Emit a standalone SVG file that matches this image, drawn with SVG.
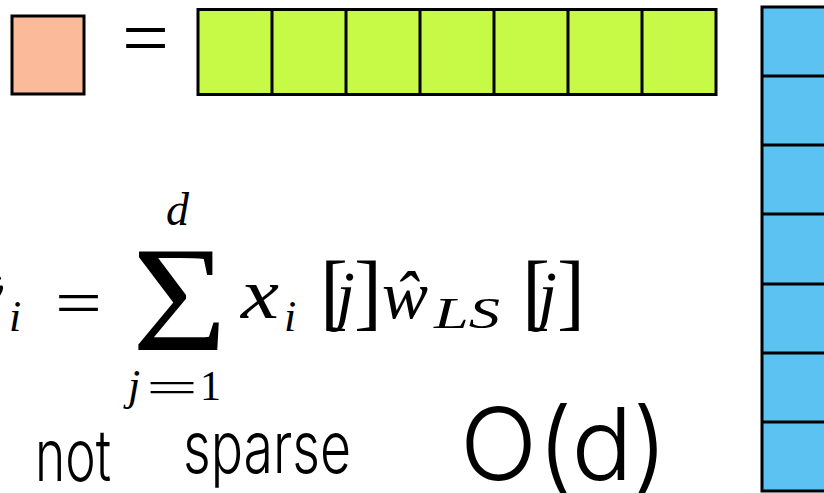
<svg xmlns="http://www.w3.org/2000/svg" width="824" height="493" viewBox="0 0 824 493">
<style>
.cell{stroke:#000;stroke-width:3}
.div{stroke:#000;stroke-width:3;fill:none}
.m{font-family:"Liberation Serif","DejaVu Serif",serif;fill:#000}
.it{font-style:italic}
.hand{font-family:Inter,"Liberation Sans",sans-serif;font-weight:300;fill:#000}
</style>
<rect width="824" height="493" fill="#fff"/>
<g id="lhs-cell">
<rect class="cell" x="12" y="16" width="72" height="78" fill="#FBBB9A"/>
</g>
<g id="equals-top">
<text class="m" x="122" y="65" font-size="80" textLength="47" lengthAdjust="spacingAndGlyphs">=</text>
</g>
<g id="row-vector">
<rect class="cell" x="198" y="9.5" width="518" height="85" fill="#C6FA47"/>
<path class="div" d="M272 9.5V94.5M346 9.5V94.5M420 9.5V94.5M494 9.5V94.5M568 9.5V94.5M642 9.5V94.5"/>
</g>
<g id="column-vector">
<rect class="cell" x="762" y="7" width="70" height="484" fill="#5BC2F1"/>
<path class="div" d="M762 76H832M762 145H832M762 214H832M762 284H832M762 353H832M762 422H832"/>
</g>
<g id="formula">
<text class="m it" x="-28" y="318" font-size="70">ŷ</text>
<text class="m it" x="9" y="331" font-size="44">i</text>
<text class="m" x="55" y="324" font-size="64" textLength="47" lengthAdjust="spacingAndGlyphs">=</text>
<text class="m it" x="166" y="225" font-size="46">d</text>
<text class="m" x="132" y="350" font-size="150" textLength="95" lengthAdjust="spacingAndGlyphs">Σ</text>
<text class="m it" x="128" y="400" font-size="44">j</text>
<text class="m" x="146" y="402" font-size="44" textLength="52" lengthAdjust="spacingAndGlyphs">=</text>
<text class="m" x="200" y="400" font-size="42">1</text>
<text class="m it" x="241" y="318" font-size="72" textLength="38" lengthAdjust="spacingAndGlyphs">x</text>
<text class="m it" x="284" y="331" font-size="44">i</text>
<text class="m" x="320" y="320" font-size="84">[</text>
<text class="m it" x="336" y="318" font-size="68">j</text>
<text class="m" x="354" y="320" font-size="84">]</text>
<text class="m it" x="382" y="318" font-size="68" textLength="46" lengthAdjust="spacingAndGlyphs">ŵ</text>
<text class="m it" x="434" y="328" font-size="44" textLength="66" lengthAdjust="spacingAndGlyphs">LS</text>
<text class="m" x="522" y="320" font-size="84">[</text>
<text class="m it" x="538" y="318" font-size="68">j</text>
<text class="m" x="557" y="320" font-size="84">]</text>
</g>
<g id="notes">
<text class="hand" x="35" y="481" font-size="72" textLength="76" lengthAdjust="spacingAndGlyphs">not</text>
<text class="hand" x="183" y="473" font-size="72" textLength="168" lengthAdjust="spacingAndGlyphs">sparse</text>
<text class="hand" x="460" y="480" font-size="100" textLength="208" lengthAdjust="spacingAndGlyphs">O(d)</text>
</g>
<g id="connectors"/>
</svg>
